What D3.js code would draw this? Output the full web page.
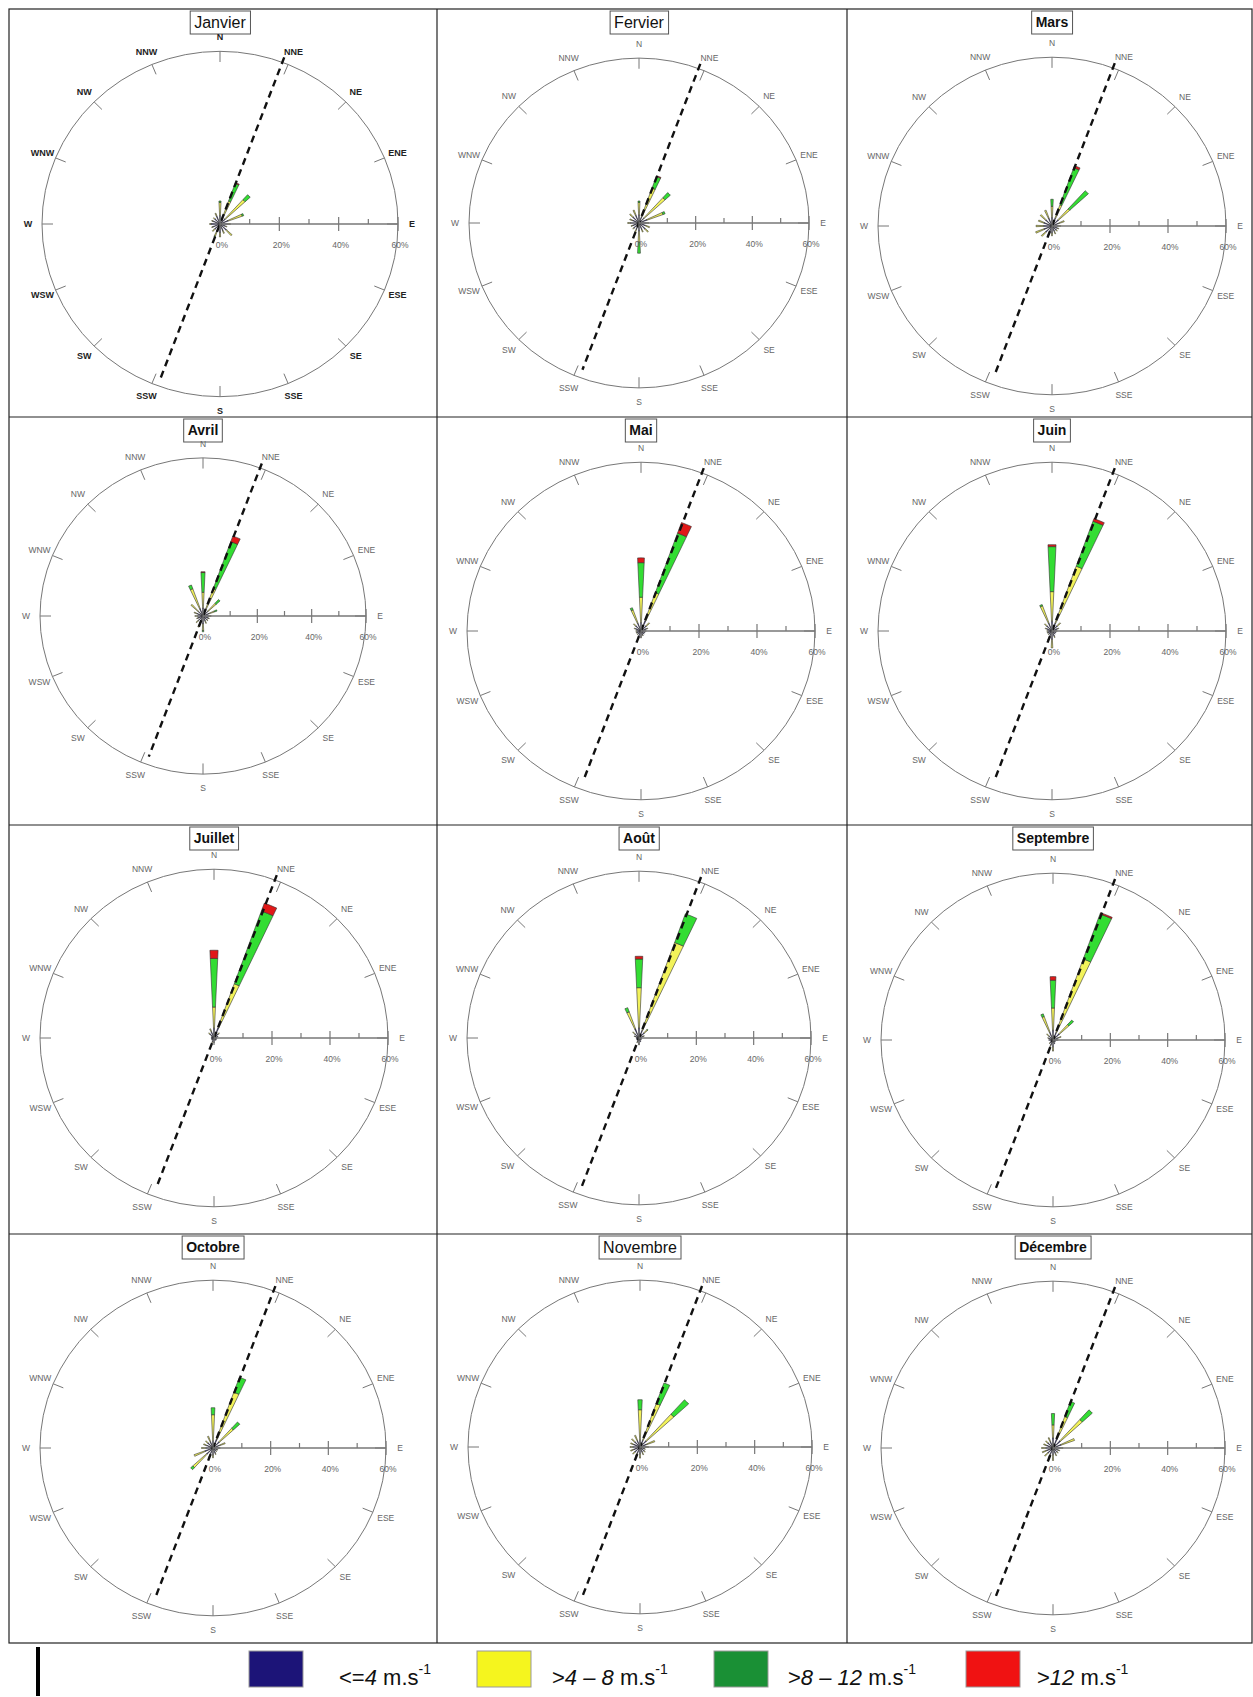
<!DOCTYPE html>
<html>
<head>
<meta charset="utf-8">
<script src="https://cdn.jsdelivr.net/npm/d3@7"></script>
<style>
  body { margin: 0; background: #fff; }
  svg text { font-family: "Liberation Sans", Arial, sans-serif; }
</style>
</head>
<body>
<div id="chart"></div>
<script>
// Months, directions and speed classes
const months = ['Janvier', 'Fervier', 'Mars', 'Avril', 'Mai', 'Juin',
  'Juillet', 'Août', 'Septembre', 'Octobre', 'Novembre', 'Décembre'];
const directions = ['N', 'NNE', 'NE', 'ENE', 'E', 'ESE', 'SE', 'SSE',
  'S', 'SSW', 'SW', 'WSW', 'W', 'WNW', 'NW', 'NNW'];
const speedClasses = ['<=4', '>4 – 8', '>8 – 12', '>12'];
const percentTicks = [0, 20, 40, 60];

// Frequency (%) per direction: [<=4, >4-8, >8-12, >12]
const janvier = [[3,4.5,0.5,0],[2,6.5,6.5,0.3],[2.5,9,2.3,0],[3,5,0.5,0],[2.5,1,0,0],[2,0.5,0,0],[3,2.5,0,0],[2.5,1,0,0],
  [3,1.5,0,0],[3,1.5,0.3,0],[2.5,1,0,0],[2.5,0.5,0,0],[3,0.5,0,0],[2.5,0.5,0,0],[2.5,0.5,0,0],[3,1,0,0]];
const fevrier = [[3,4.5,0.5,0],[2.5,11,4.5,0.3],[2.5,10,2.5,0],[3,6,0.8,0],[2.5,1,0,0],[2.5,1.5,0,0],[3,1.5,0,0],[2.5,1,0,0],
  [3,4,4,0],[2.5,1,0,0],[2.5,0.5,0,0],[2.5,0.5,0,0],[3,1,0,0],[2.5,1,0,0],[3,1.5,0,0],[3,2,0,0]];
const mars = [[3,4,2.5,0],[3,5,14,0.8],[3,5.3,8.7,0],[2.5,2,0,0],[2,1,0,0],[2,0.5,0,0],[2,0.5,0,0],[2,1,0,0],
  [2.5,1,0,0],[2.5,1.5,0,0],[3,2,0,0],[3,3,0,0],[3,2.5,0,0],[3,2,0,0],[3,2.5,0,0],[3,3,0,0]];
const avril = [[3,6,7.5,0.3],[3,8,19,2.3],[2.5,4,2,0],[2.5,2,1,0],[2,1,0,0],[2,0.5,0,0],[2,0.5,0,0],[2,1,0,0],
  [3,2.5,0.5,0],[3,1.5,0,0],[2.5,1,0,0],[2,0.5,0,0],[2,1,0,0],[2.5,1,0,0],[2.5,3.5,0,0],[3,8,1.5,0]];
const mai = [[3,9,12.3,1.7],[4,10.5,22.5,4],[2.5,1.5,0,0],[2,0.5,0,0],[1.5,0.3,0,0],[1.5,0,0,0],[1.5,0,0,0],[1.5,0.3,0,0],
  [2,0.5,0,0],[2,0.5,0,0],[1.5,0.3,0,0],[1.5,0.3,0,0],[1.5,0.3,0,0],[2,0.5,0,0],[2.5,1,0,0],[3,5,0.8,0]];
const juin = [[3.5,10.5,16,0.7],[3,21.5,17,1],[2.5,1.5,0,0],[2,0.5,0,0],[1.5,0.3,0,0],[1.5,0,0,0],[1.5,0,0,0],[2,0.5,0,0],
  [3,3,0,0],[2.5,1,0,0],[1.5,0.3,0,0],[1.5,0.3,0,0],[1.5,0.3,0,0],[2,0.5,0,0],[2.5,1,0,0],[3,6.5,0.5,0]];
const juillet = [[3.5,7.5,17.3,2.9],[4,16.5,27.5,3],[2,0.5,0,0],[1.5,0,0,0],[1,0,0,0],[1,0,0,0],[1,0,0,0],[1,0,0,0],
  [1.5,0.3,0,0],[1.5,0.3,0,0],[1,0,0,0],[1,0,0,0],[1,0,0,0],[1,0,0,0],[2,0.5,0,0],[2.5,1,0,0]];
const aout = [[3.7,14.4,10.3,1],[3,33.5,11,0],[2.5,1.5,0.3,0],[1.5,0.5,0,0],[1,0,0,0],[1,0,0,0],[1,0,0,0],[1.5,0,0,0],
  [2,0.5,0,0],[1.5,0.3,0,0],[1,0,0,0],[1,0,0,0],[1,0,0,0],[1.5,0.3,0,0],[2,1,0,0],[3.5,6.5,1.6,0]];
const septembre = [[3.5,8,10,1.3],[3,28,17.2,0.5],[3,4.5,2.2,0],[2,1,0,0],[1.5,0.3,0,0],[1,0,0,0],[1,0,0,0],[1.5,0,0,0],
  [2.5,1.5,0,0],[2,0.5,0,0],[1.5,0.3,0,0],[1,0,0,0],[1.5,0,0,0],[1.5,0.5,0,0],[2,1,0,0],[3,6,1,0]];
const octobre = [[2.6,9.3,2.5,0],[3.4,17.8,5.7,0],[3,6.6,3,0],[2.5,2,0,0],[2,0.5,0,0],[1.5,0.3,0,0],[1.5,0.3,0,0],[2,0.5,0,0],
  [2.5,1,0,0],[2.5,1.5,0,0],[3,6.5,1,0],[3,4,0,0],[2.5,1.5,0,0],[2.5,1,0,0],[2.5,1,0,0],[2.5,2,0,0]];
const novembre = [[2.6,10.8,3.6,0],[2.6,14,7.9,0],[3,13,7,0],[2.5,3,0,0],[2,1,0,0],[1.5,0.5,0,0],[2,0.5,0,0],[2,1,0,0],
  [2.5,1.5,0,0],[2.5,1,0,0],[2.5,1,0,0],[2.5,1,0,0],[2.5,1,0,0],[2.5,1,0,0],[2.5,1.5,0,0],[2.5,2,0,0]];
const decembre = [[3.6,4.7,4.1,0],[3.5,8.5,5.8,0],[3.5,10.4,4.7,0],[3,5,0,0],[2.5,1,0,0],[2,0.5,0,0],[2,0.5,0,0],[2,1,0,0],
  [2.5,2,0,0],[2.5,1.5,0,0],[2.5,1.5,0,0],[2.5,1.5,0,0],[2.5,1.5,0,0],[2.5,1,0,0],[2.5,1,0,0],[2.5,1.5,0,0]];
const monthData = [janvier, fevrier, mars, avril, mai, juin, juillet, aout, septembre, octobre, novembre, decembre];

// Colours
const petalColors = ['#1c1478', '#f2f25a', '#33dd33', '#e01818'];
const legendColors = ['#1c1478', '#f5f51e', '#1a9035', '#f01212'];

// Panel layout (grid, circle centres and radii)
const colX = [9, 437, 847, 1252];
const rowY = [9, 417, 825, 1234, 1643];
const panels = [
  {cx: 220, cy: 224, R: 178}, {cx: 639, cy: 223, R: 170}, {cx: 1052, cy: 226, R: 174},
  {cx: 203, cy: 616, R: 163}, {cx: 641, cy: 631, R: 174}, {cx: 1052, cy: 631, R: 174},
  {cx: 214, cy: 1038, R: 174}, {cx: 639, cy: 1038, R: 172}, {cx: 1053, cy: 1040, R: 172},
  {cx: 213, cy: 1448, R: 173}, {cx: 640, cy: 1447, R: 172}, {cx: 1053, cy: 1448, R: 172}
];
const ky = 0.97;               // the rose circles are slightly squashed vertically
const halfWidth = 2.6 * Math.PI / 180;
const lineAngle = 20.5 * Math.PI / 180;

const svg = d3.select('#chart').append('svg')
  .attr('width', 1253)
  .attr('height', 1697);

// Grid of panels
svg.append('rect')
  .attr('x', colX[0]).attr('y', rowY[0])
  .attr('width', colX[3] - colX[0]).attr('height', rowY[4] - rowY[0])
  .attr('fill', 'none').attr('stroke', '#222').attr('stroke-width', 1.2);
colX.slice(1, 3).forEach(x => svg.append('line')
  .attr('x1', x).attr('x2', x).attr('y1', rowY[0]).attr('y2', rowY[4])
  .attr('stroke', '#222').attr('stroke-width', 1.2));
rowY.slice(1, 4).forEach(y => svg.append('line')
  .attr('x1', colX[0]).attr('x2', colX[3]).attr('y1', y).attr('y2', y)
  .attr('stroke', '#222').attr('stroke-width', 1.2));

monthData.forEach((data, m) => {
  const p = panels[m];
  const top = rowY[Math.floor(m / 3)];
  const r = d3.scaleLinear().domain([0, 60]).range([0, p.R]);
  const g = svg.append('g');
  const rose = g.append('g').attr('transform', `translate(${p.cx},${p.cy}) scale(1,${ky})`);
  const boldLabels = m === 0;

  // outer circle and direction ticks
  rose.append('circle')
    .attr('r', r(60)).attr('fill', 'none')
    .attr('stroke', '#777').attr('stroke-width', 1)
    .attr('vector-effect', 'non-scaling-stroke');
  rose.selectAll('.dtick').data(directions).enter().append('line')
    .attr('x1', (d, i) => Math.sin(i * Math.PI / 8) * (r(60) - 11))
    .attr('y1', (d, i) => -Math.cos(i * Math.PI / 8) * (r(60) - 11))
    .attr('x2', (d, i) => Math.sin(i * Math.PI / 8) * r(60))
    .attr('y2', (d, i) => -Math.cos(i * Math.PI / 8) * r(60))
    .attr('stroke', '#777').attr('stroke-width', 1)
    .attr('vector-effect', 'non-scaling-stroke');

  // direction labels
  g.selectAll('.dlab').data(directions).enter().append('text')
    .attr('x', (d, i) => p.cx + Math.sin(i * Math.PI / 8) * (p.R + 14))
    .attr('y', (d, i) => p.cy - Math.cos(i * Math.PI / 8) * (p.R * ky + 14))
    .attr('text-anchor', 'middle')
    .attr('dominant-baseline', 'central')
    .attr('font-size', boldLabels ? 9 : 8.5)
    .attr('font-weight', boldLabels ? 'bold' : 'normal')
    .attr('fill', boldLabels ? '#222' : '#666')
    .text(d => d);

  // radial percentage axis towards E
  g.append('line')
    .attr('x1', p.cx).attr('x2', p.cx + r(60))
    .attr('y1', p.cy).attr('y2', p.cy)
    .attr('stroke', '#777').attr('stroke-width', 1.4);
  g.selectAll('.ptick').data(d3.range(0, 61, 10)).enter().append('line')
    .attr('x1', d => p.cx + r(d)).attr('x2', d => p.cx + r(d))
    .attr('y1', d => p.cy - (d % 20 === 0 ? 7 : 5))
    .attr('y2', d => p.cy + (d % 20 === 0 ? 7 : 0))
    .attr('stroke', '#777').attr('stroke-width', 1.2);
  g.selectAll('.plab').data(percentTicks).enter().append('text')
    .attr('x', d => p.cx + r(d) + 2)
    .attr('y', p.cy + 21)
    .attr('text-anchor', 'middle')
    .attr('dominant-baseline', 'central')
    .attr('font-size', 8.5).attr('fill', '#666')
    .text(d => d + '%');

  // stacked petals
  const segs = [];
  data.forEach((vals, i) => {
    let c = 0;
    vals.forEach((v, k) => {
      if (v > 0) segs.push({dir: i, k: k, r0: c, r1: c + v});
      c += v;
    });
  });
  const arc = d3.arc()
    .innerRadius(d => r(d.r0))
    .outerRadius(d => r(d.r1))
    .startAngle(d => d.dir * Math.PI / 8 - halfWidth)
    .endAngle(d => d.dir * Math.PI / 8 + halfWidth);
  rose.selectAll('.petal').data(segs).enter().append('path')
    .attr('d', arc)
    .attr('fill', d => petalColors[d.k])
    .attr('stroke', '#333').attr('stroke-width', 0.6)
    .attr('vector-effect', 'non-scaling-stroke');

  // dashed orientation line
  rose.append('line')
    .attr('x1', Math.sin(lineAngle) * r(61.8))
    .attr('y1', -Math.cos(lineAngle) * r(61.8))
    .attr('x2', -Math.sin(lineAngle) * r(57))
    .attr('y2', Math.cos(lineAngle) * r(57))
    .attr('stroke', '#111').attr('stroke-width', 2.4)
    .attr('stroke-dasharray', '7,5')
    .attr('vector-effect', 'non-scaling-stroke');

  // title box
  const regularTitle = m === 0 || m === 1 || m === 10;
  const title = g.append('text')
    .attr('x', p.cx).attr('y', top + 13)
    .attr('text-anchor', 'middle')
    .attr('dominant-baseline', 'central')
    .attr('font-size', regularTitle ? 16 : 14)
    .attr('font-weight', regularTitle ? 'normal' : 'bold')
    .attr('fill', '#111')
    .text(months[m]);
  const bb = title.node().getBBox();
  g.insert('rect', 'text')
    .attr('x', bb.x - 4).attr('y', top + 2)
    .attr('width', bb.width + 8).attr('height', 23)
    .attr('fill', '#fff').attr('stroke', '#555').attr('stroke-width', 1);
});

// Legend
const legendX = [249, 477, 714, 966];
const legendTextX = [339, 552, 788, 1037];
const legend = svg.append('g');
legend.append('rect')
  .attr('x', 36).attr('y', 1647).attr('width', 4).attr('height', 49).attr('fill', '#000');
speedClasses.forEach((label, k) => {
  legend.append('rect')
    .attr('x', legendX[k]).attr('y', 1651)
    .attr('width', 54).attr('height', 36)
    .attr('fill', legendColors[k]).attr('stroke', '#999').attr('stroke-width', 1);
  const t = legend.append('text')
    .attr('x', legendTextX[k]).attr('y', 1685)
    .attr('font-family', '"Liberation Serif", "Times New Roman", serif')
    .attr('font-size', 22).attr('fill', '#111');
  label.split(/(\d[\d –]*\d|\d)/).filter(s => s.length).forEach(part => {
    t.append('tspan')
      .attr('font-style', /\d/.test(part) ? 'italic' : 'normal')
      .text(part);
  });
  t.append('tspan').text(k === 1 ? '  m.s' : ' m.s');
  t.append('tspan').attr('dy', -11).attr('font-size', 14).text('-1');
});
</script>
</body>
</html>
